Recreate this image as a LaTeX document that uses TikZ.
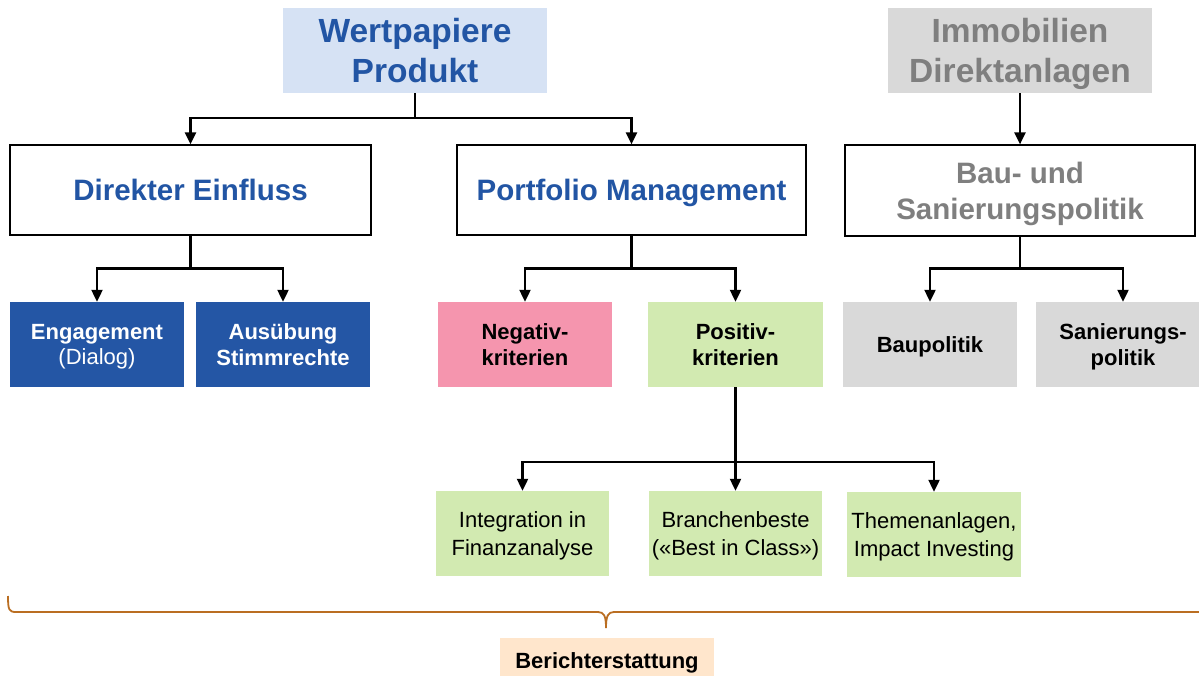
\documentclass[tikz,border=0pt]{standalone}
\usepackage{fontspec}
\setmainfont{Liberation Sans}
\usetikzlibrary{arrows.meta}
\definecolor{hblue}{RGB}{34,85,164}
\definecolor{lblue}{RGB}{214,226,244}
\definecolor{dblue}{RGB}{36,86,165}
\definecolor{pinkf}{RGB}{245,149,174}
\definecolor{greenf}{RGB}{210,234,177}
\definecolor{grayf}{RGB}{217,217,217}
\definecolor{grayt}{RGB}{127,127,127}
\definecolor{peach}{RGB}{255,230,204}
\definecolor{bracec}{RGB}{186,110,34}
\tikzset{
  bx/.style={rectangle, inner sep=0pt, align=center, text depth=0pt},
  head/.style={bx, font=\fontsize{33.5}{40}\selectfont\bfseries},
  mid/.style={bx, draw=black, line width=1.2pt, fill=white, font=\fontsize{29.5}{36}\selectfont\bfseries},
  small/.style={bx, font=\fontsize{22}{25.5}\selectfont\bfseries},
  leaf/.style={bx, fill=greenf, font=\fontsize{22}{28}\selectfont},
  conn/.style={draw=black, line width=2.2pt, -{Triangle[length=12pt,width=11pt]}},
  plain/.style={draw=black, line width=2.2pt}
}
\begin{document}
\begin{tikzpicture}[x=1pt,y=-1pt]
\useasboundingbox (0,0) rectangle (1199,676);
% top
\node[head, fill=lblue, text=hblue, minimum width=264pt, minimum height=85pt] (wp) at (415,50.5) {Wertpapiere\\Produkt};
\node[head, fill=grayf, text=grayt, minimum width=264pt, minimum height=85pt] (im) at (1020,50.5) {Immobilien\\Direktanlagen};
% middle
\node[mid, text=hblue, minimum width=361pt, minimum height=90pt] (de) at (190.5,190) {Direkter Einfluss};
\node[mid, text=hblue, minimum width=349pt, minimum height=90pt] (pm) at (631.5,190) {Portfolio Management};
\node[mid, text=grayt, minimum width=350pt, minimum height=91pt] (bs) at (1020,190.5) {Bau- und\\Sanierungspolitik};
% row 3
\node[small, fill=dblue, text=white, minimum width=174pt, minimum height=85pt] (en) at (97,344.5) {Engagement\\{\mdseries(Dialog)}};
\node[small, fill=dblue, text=white, minimum width=174pt, minimum height=85pt] (au) at (283,344.5) {Ausübung\\Stimmrechte};
\node[small, fill=pinkf, text=black, minimum width=174pt, minimum height=85pt] (ne) at (525,344.5) {Negativ-\\kriterien};
\node[small, fill=greenf, text=black, minimum width=175pt, minimum height=85pt] (po) at (735.5,344.5) {Positiv-\\kriterien};
\node[small, fill=grayf, text=black, minimum width=174pt, minimum height=85pt] (ba) at (930,344.5) {Baupolitik};
\node[small, fill=grayf, text=black, minimum width=174pt, minimum height=85pt] (sa) at (1123,344.5) {Sanierungs-\\politik};
% row 4
\node[leaf, minimum width=173pt, minimum height=85pt] (ig) at (522.5,533.5) {Integration in\\Finanzanalyse};
\node[leaf, minimum width=173pt, minimum height=85pt] (bb) at (735.5,533.5) {Branchenbeste\\(«Best in Class»)};
\node[leaf, minimum width=174pt, minimum height=85pt] (th) at (934,534.5) {Themenanlagen,\\Impact Investing};
% bottom
\node[small, fill=peach, text=black, minimum width=214pt, minimum height=46pt] (be) at (607,661) {Berichterstattung};
% connectors
\draw[plain] (wp.south) -- ++(0,25) coordinate (wpj);
\draw[conn] (wpj) -| (de.north);
\draw[conn] (wpj) -| (pm.north);
\draw[conn] (im.south) -- (bs.north);
\draw[plain] (de.south) -- ++(0,33) coordinate (dej);
\draw[conn] (dej) -| (en.north);
\draw[conn] (dej) -| (au.north);
\draw[plain] (pm.south) -- ++(0,33) coordinate (pmj);
\draw[conn] (pmj) -| (ne.north);
\draw[conn] (pmj) -| (po.north);
\draw[plain] (bs.south) -- ++(0,32) coordinate (bsj);
\draw[conn] (bsj) -| (ba.north);
\draw[conn] (bsj) -| (sa.north);
\draw[plain] (po.south) -- ++(0,75) coordinate (poj);
\draw[conn] (poj) -| (ig.north);
\draw[conn] (poj) -- (bb.north);
\draw[conn] (poj) -| (th.north);
% brace
\coordinate (bl) at (8,596);
\coordinate (bm) at (606,628);
\coordinate (br) at (1215,612);
\draw[bracec, line width=1.8pt] (bl) .. controls (8,610) and (9,612) .. (16,612) -- (598,612) .. controls (604,612) and (606,616) .. (bm);
\draw[bracec, line width=1.8pt] (bm) .. controls (606,616) and (608,612) .. (614,612) -- (br);
\end{tikzpicture}
\end{document}
